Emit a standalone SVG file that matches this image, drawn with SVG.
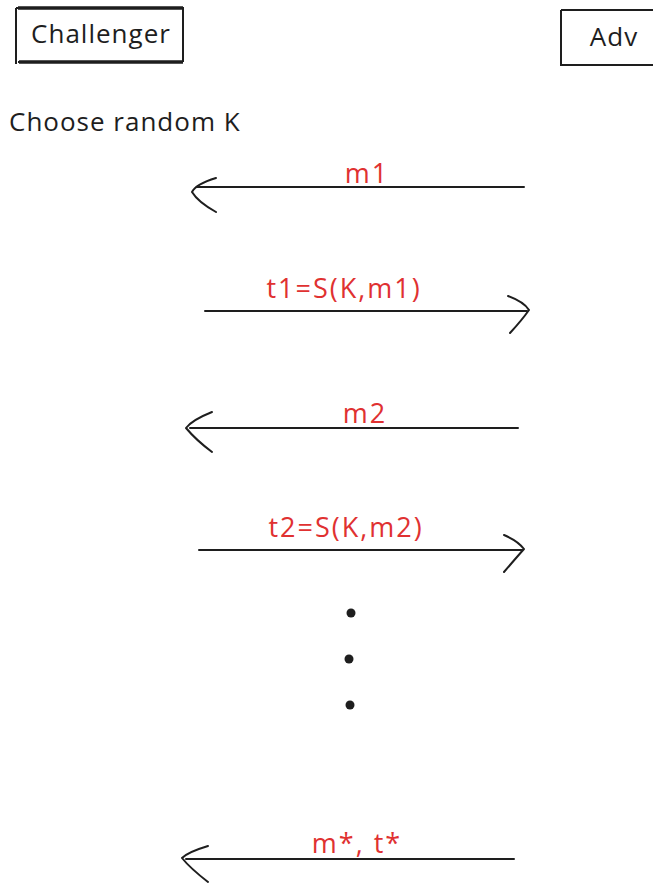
<svg xmlns="http://www.w3.org/2000/svg" width="653" height="884" viewBox="0 0 653 884">
<style>
.box{fill:none;stroke:#1e1e1e;stroke-width:2}
.lbl{font-family:"Open Sans","Liberation Sans",sans-serif;font-size:26px;fill:#1e1e1e;letter-spacing:1px}
.red{font-family:"Open Sans","Liberation Sans",sans-serif;font-size:27px;fill:#e03131;text-anchor:middle;letter-spacing:2px}
.ln{fill:none;stroke:#1e1e1e;stroke-width:2;stroke-linecap:round;stroke-linejoin:round}
.dot{fill:#1e1e1e}
</style>
<rect width="653" height="884" fill="#ffffff"/>
<g id="challenger">
<path class="box" d="M16 8 L16 64 M16 8 L183 8 L183 62 M18 62 L183 62"/>
<path d="M18 8 L183 8 M19 62 L183 62" stroke="#1e1e1e" stroke-width="3.5" fill="none"/>
<text class="lbl" x="101" y="43" text-anchor="middle">Challenger</text>
</g>
<g id="adv">
<path class="box" d="M561 10 L561 65 L653 65 M561 10 L653 10"/>
<text class="lbl" x="614" y="46" text-anchor="middle">Adv</text>
</g>
<g id="note">
<text class="lbl" x="9" y="131">Choose random K</text>
</g>
<g id="connectors">
<path class="ln" d="M524 187 L196 187 M216 178 Q196 184 192 192 Q198 202 216 212"/>
<path class="ln" d="M205 311 L527 311 M508 296 Q524 302 529 310 Q522 320 510 333"/>
<path class="ln" d="M518 428 L190 428 M212 412 Q192 420 186 428 Q196 440 212 452"/>
<path class="ln" d="M199 550 L522 550 M504 535 Q518 541 524 549 Q516 558 504 572"/>
<path class="ln" d="M514 859 L186 859 M208 846 Q188 852 182 858 Q190 868 208 882"/>
</g>
<g id="labels">
<text class="red" x="367" y="183">m1</text>
<text class="red" x="344" y="298">t1=S(K,m1)</text>
<text class="red" x="365" y="423">m2</text>
<text class="red" x="346" y="537">t2=S(K,m2)</text>
<text class="red" x="357" y="853">m*, t*</text>
</g>
<g id="dots">
<circle class="dot" cx="351" cy="613" r="4.5"/>
<circle class="dot" cx="349" cy="659" r="4.5"/>
<circle class="dot" cx="350" cy="705" r="4.5"/>
</g>
</svg>
